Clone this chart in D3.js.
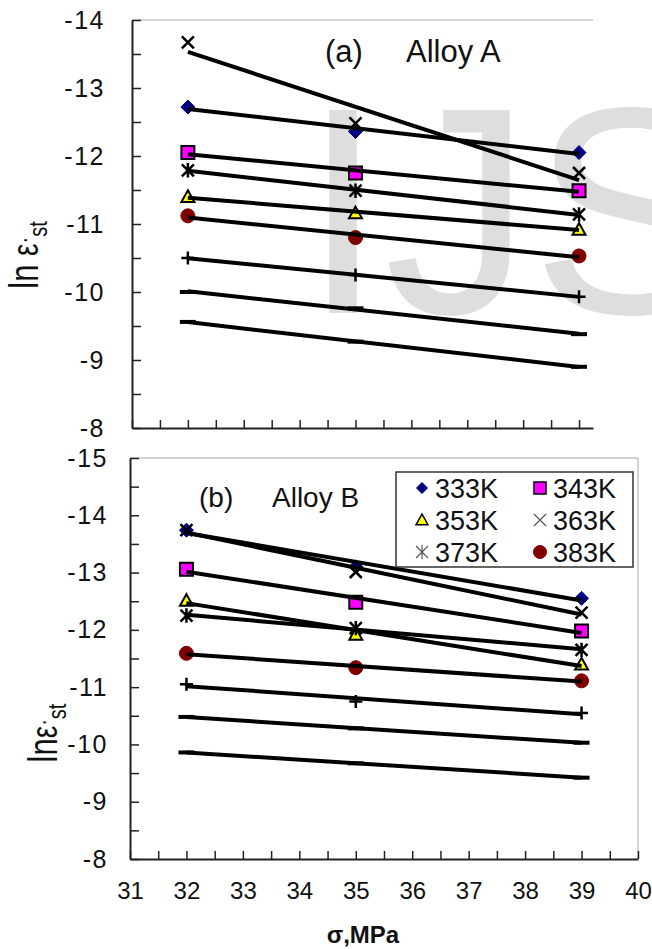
<!DOCTYPE html>
<html>
<head>
<meta charset="utf-8">
<script src="https://cdn.jsdelivr.net/npm/d3@7"></script>
<style>
  body { margin: 0; background: #fff; }
  text { font-family: "Liberation Sans", Arial, sans-serif; fill: #111; }
</style>
</head>
<body>
<script>
// stress levels (MPa) at which strain rate was measured
var stress = [32, 35, 39];

// series: temperature label + marker type
var temps = ["333K", "343K", "353K", "363K", "373K", "383K", "393K", "403K", "413K"];
var markers = ["diamond", "square", "triangle", "x", "asterisk", "circle", "plus", "dash", "dash"];

// ln(strain rate), one row per temperature
var alloyA = [
  [-12.72, -12.36, -12.05],
  [-12.05, -11.75, -11.49],
  [-11.40, -11.16, -10.92],
  [-13.67, -12.48, -11.75],
  [-11.79, -11.49, -11.14],
  [-11.12, -10.80, -10.53],
  [-10.50, -10.25, -9.93],
  [-10.00, -9.76, -9.38],
  [-9.56, -9.27, -8.90]
];
var alloyB = [
  [-13.74, -13.10, -12.55],
  [-13.06, -12.48, -11.98],
  [-12.51, -11.92, -11.40],
  [-13.74, -13.01, -12.30],
  [-12.25, -12.03, -11.65],
  [-11.59, -11.34, -11.11],
  [-11.05, -10.75, -10.55],
  [-10.48, -10.28, -10.03],
  [-9.86, -9.67, -9.42]
];

var yTicksA = d3.range(-14, -7.9, 0.5);
var yTicksB = d3.range(-15, -7.9, 0.5);
var xTicks = d3.range(31, 40.1, 0.5);
var legendItems = ["333K", "343K", "353K", "363K", "373K", "383K"];

var svg = d3.select("body").append("svg")
  .attr("width", 652).attr("height", 949);

// watermark
svg.append("text")
  .attr("x", 302).attr("y", 313)
  .style("font-size", "295px")
  .style("fill", "#dedede")
  .text("IJS");

function markerPath(type, s) {
  if (type == "diamond") return "M0," + (-s) + "L" + s + ",0L0," + s + "L" + (-s) + ",0Z";
  if (type == "square") return "M" + (-s) + "," + (-s) + "h" + 2 * s + "v" + 2 * s + "h" + (-2 * s) + "Z";
  if (type == "triangle") return "M0," + (-s) + "L" + s + "," + (s * 0.8) + "L" + (-s) + "," + (s * 0.8) + "Z";
  if (type == "circle") return d3.symbol(d3.symbolCircle, Math.PI * s * s)();
  if (type == "x") return "M" + (-s) + "," + (-s) + "L" + s + "," + s + "M" + (-s) + "," + s + "L" + s + "," + (-s);
  if (type == "asterisk") return "M" + (-s) + "," + (-s) + "L" + s + "," + s + "M" + (-s) + "," + s + "L" + s + "," + (-s) + "M0," + (-s * 1.2) + "L0," + (s * 1.2);
  if (type == "plus") return "M" + (-s) + ",0L" + s + ",0M0," + (-s) + "L0," + s;
  if (type == "dash") return "M" + (-s) + ",0L" + s + ",0";
}

var markerStyle = {
  diamond:  { fill: "#000080", stroke: "#000080", w: 1, s: 7 },
  square:   { fill: "#ff00ff", stroke: "#000", w: 2, s: 6.5 },
  triangle: { fill: "#ffff00", stroke: "#000", w: 2, s: 6.5 },
  circle:   { fill: "#800000", stroke: "#800000", w: 1, s: 7 },
  x:        { fill: "none", stroke: "#000", w: 2.5, s: 6 },
  asterisk: { fill: "none", stroke: "#000", w: 2.5, s: 6 },
  plus:     { fill: "none", stroke: "#000", w: 2.5, s: 6.5 },
  dash:     { fill: "none", stroke: "#000", w: 4, s: 8 }
};

function fit(xs, ys) {
  var mx = d3.mean(xs), my = d3.mean(ys);
  var num = d3.sum(xs, function(x, i) { return (x - mx) * (ys[i] - my); });
  var den = d3.sum(xs, function(x) { return (x - mx) * (x - mx); });
  var b = num / den;
  return function(x) { return my + b * (x - mx); };
}

function drawPanel(opt) {
  var x = opt.x, y = opt.y;
  var g = svg.append("g");
  var x0 = x.range()[0], x1 = x.range()[1], y0 = y.range()[0], y1 = y.range()[1];

  // light frame
  g.append("line").attr("x1", x0).attr("x2", x1).attr("y1", y0).attr("y2", y0)
    .attr("stroke", "#c4c4c4").attr("stroke-width", 1.5);
  if (opt.rightBorder) {
    g.append("line").attr("x1", x1).attr("x2", x1).attr("y1", y0).attr("y2", y1)
      .attr("stroke", "#c4c4c4").attr("stroke-width", 1.5);
  }

  // y axis, ticks inward
  var ya = g.append("g").attr("transform", "translate(" + x0 + ",0)")
    .call(d3.axisLeft(y).tickValues(opt.yTicks).tickSize(-9).tickSizeOuter(0)
      .tickPadding(opt.yPad)
      .tickFormat(function(d) { return Number.isInteger(d) ? String(d) : ""; }));
  ya.selectAll("text").style("font-size", "25px").style("letter-spacing", "1.5px")
    .attr("fill", "#111");

  var xa = g.append("g").attr("transform", "translate(0," + y1 + ")")
    .call(d3.axisBottom(x).tickValues(opt.xTicks.filter(function(d) { return d <= x.domain()[1]; }))
      .tickSize(-8).tickSizeOuter(0).tickPadding(23)
      .tickFormat(function(d) { return opt.xLabels && Number.isInteger(d) ? String(d) : ""; }));
  xa.selectAll("text").style("font-size", "24px").attr("fill", "#111");

  g.selectAll(".domain").attr("stroke", "#222").attr("stroke-width", 2);
  g.selectAll(".tick line").attr("stroke", "#222").attr("stroke-width", 1.5);

  // markers
  opt.data.forEach(function(vals, i) {
    var st = markerStyle[markers[i]];
    g.selectAll(null).data(vals).enter().append("path")
      .attr("transform", function(d, j) { return "translate(" + x(stress[j]) + "," + y(d) + ")"; })
      .attr("d", markerPath(markers[i], st.s))
      .attr("fill", st.fill).attr("stroke", st.stroke).attr("stroke-width", st.w);
  });

  // fitted lines on top
  opt.data.forEach(function(vals) {
    var f = fit(stress, vals);
    var ends = [stress[0], stress[stress.length - 1]];
    g.append("path")
      .datum(ends)
      .attr("d", d3.line().x(function(d) { return x(d); }).y(function(d) { return y(f(d)); }))
      .attr("fill", "none").attr("stroke", "#000").attr("stroke-width", 4);
  });

  g.append("text").attr("x", opt.tagX).attr("y", opt.tagY)
    .style("font-size", opt.tagFont + "px").text(opt.tag);
  g.append("text").attr("x", opt.nameX).attr("y", opt.tagY)
    .style("font-size", opt.tagFont + "px").text(opt.name);
  return g;
}

drawPanel({
  x: d3.scaleLinear().domain([31, 39.25]).range([132, 593]),
  y: d3.scaleLinear().domain([-14, -8]).range([20, 428]),
  data: alloyA, yTicks: yTicksA, xTicks: xTicks, xLabels: false,
  yPad: 27, rightBorder: false,
  tag: "(a)", name: "Alloy A", tagX: 325, nameX: 406, tagY: 62, tagFont: 31
});

drawPanel({
  x: d3.scaleLinear().domain([31, 40]).range([130, 638]),
  y: d3.scaleLinear().domain([-15, -8]).range([458, 859]),
  data: alloyB, yTicks: yTicksB, xTicks: xTicks, xLabels: true,
  yPad: 22, rightBorder: true,
  tag: "(b)", name: "Alloy B", tagX: 199, nameX: 272, tagY: 507, tagFont: 28
});

// y titles (glyphs look stretched across the page in the original)
function yTitle(cx, cy, gap) {
  var t = svg.append("text").attr("transform", "translate(" + cx + "," + cy + ") rotate(-90) scale(1,1.3)")
    .attr("text-anchor", "middle");
  t.append("tspan").style("font-size", "31px").text(gap ? "ln " : "ln");
  t.append("tspan").style("font-size", "28px").text("ε");
  t.append("tspan").style("font-size", "20px").attr("dy", -4).text("·");
  t.append("tspan").style("font-size", "20px").attr("dy", 11).text("st");
}
yTitle(38, 255, true);
yTitle(57, 733, false);

// x title
svg.append("text").attr("x", 363).attr("y", 943).attr("text-anchor", "middle")
  .style("font-size", "24px").style("font-weight", "bold").text("σ,MPa");

// legend
var lg = svg.append("g");
lg.append("rect").attr("x", 396).attr("y", 472).attr("width", 237).attr("height", 95)
  .attr("fill", "#fff").attr("stroke", "#333").attr("stroke-width", 1.5);
var legendStyle = {
  diamond:  { fill: "#000080", stroke: "#000080", w: 1, s: 5.5 },
  square:   { fill: "#ff00ff", stroke: "#000", w: 1.5, s: 6 },
  triangle: { fill: "#ffff00", stroke: "#000", w: 1.5, s: 6 },
  x:        { fill: "none", stroke: "#555", w: 1.2, s: 6 },
  asterisk: { fill: "none", stroke: "#555", w: 1.2, s: 6 },
  circle:   { fill: "#800000", stroke: "#800000", w: 1, s: 6.5 }
};
legendItems.forEach(function(name, i) {
  var col = i % 2, row = Math.floor(i / 2);
  var mx = col ? 540 : 422, cy = 488 + row * 32;
  var type = markers[temps.indexOf(name)];
  var st = legendStyle[type];
  lg.append("path").attr("transform", "translate(" + mx + "," + cy + ")")
    .attr("d", markerPath(type, st.s))
    .attr("fill", st.fill).attr("stroke", st.stroke).attr("stroke-width", st.w);
  lg.append("text").attr("x", mx + 13).attr("y", cy + 10)
    .style("font-size", "27px").text(name);
});
</script>
</body>
</html>
